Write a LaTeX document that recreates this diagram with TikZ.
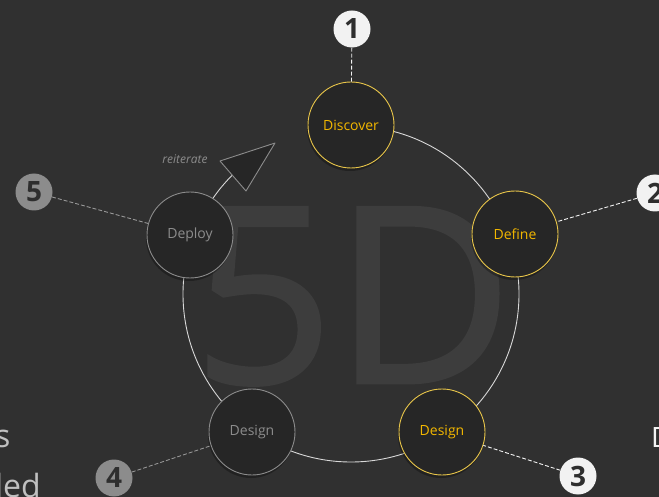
\documentclass[tikz,border=0pt]{standalone}
\usepackage{fontspec}
\setmainfont{Open Sans}
\newfontfamily\ghostfont[FakeBold=1.2]{Open Sans}
\usepackage{tikz}
\usetikzlibrary{shadows}
\definecolor{slidebg}{HTML}{303030}
\definecolor{disc}{HTML}{262626}
\definecolor{gold}{HTML}{F2B700}
\definecolor{goldline}{HTML}{E9C64A}
\definecolor{dim}{HTML}{8C8C8C}
\definecolor{ring}{HTML}{D8D8D8}
\definecolor{ghost}{HTML}{3D3D3D}
\definecolor{chalk}{HTML}{F2F2F2}
\definecolor{ink}{HTML}{2E2E2E}
\definecolor{side}{HTML}{C0C0C0}
\tikzset{
    stage/.style = {circle, fill=disc, minimum size=86pt, inner sep=0pt, line width=0.9pt, font=\fontsize{14}{16}\selectfont,
        drop shadow={shadow xshift=-1pt, shadow yshift=-3pt, opacity=0.3, fill=black}},
    gold_node/.style = {stage, draw=goldline, text=gold},
    grey_node/.style = {stage, draw=dim, text=dim},
    badge/.style = {circle, minimum size=37pt, inner sep=0pt, text=ink, font=\fontsize{28}{30}\selectfont\bfseries},
    light_badge/.style = {badge, fill=chalk},
    dim_badge/.style = {badge, fill=dim},
    lead/.style = {dash pattern=on 4pt off 2pt, line width=0.9pt},
    light_lead/.style = {lead, draw=chalk},
    dim_lead/.style = {lead, draw=dim!90!white},
    cut_text/.style = {inner sep=0pt, text=side, font=\fontsize{32}{36}\selectfont}
}

\begin{document}
\begin{tikzpicture}[x=1pt, y=-1pt]

            \fill[slidebg] (0,0) rectangle (659,497);
            \useasboundingbox (0,0) rectangle (659,497);

            % watermark
            \node [anchor=base, inner sep=0pt, text=ghost, font=\ghostfont\fontsize{246}{250}\selectfont] (watermark) at (353,383) {5D};

            % cycle, open between deploy and discover
            \coordinate (ring_top) at (351,126);
            \draw [ring, line width=0.9pt] (ring_top) arc [start angle=90, end angle=-225, radius=168pt] coordinate (loop_base);

            % reiterate head
            \coordinate (loop_tip) at (275,143);
            \coordinate (loop_left) at (220,161);
            \coordinate (loop_right) at (246,191);
            \filldraw [fill=disc, draw=dim, line width=0.9pt, line join=round] (loop_tip) -- (loop_left) -- (loop_right) -- cycle;
            \node [text=dim, font=\fontsize{12}{14}\selectfont\itshape] (reiterate) at (185,159) {reiterate};

            \node [gold_node] (discover) at (351,125) {Discover};
            \node [gold_node] (define) at (515,234) {Define};
            \node [gold_node] (design) at (442,432) {Design};
            \node [grey_node] (design_grey) at (252,432) {Design};
            \node [grey_node] (deploy) at (190,235) {Deploy};

            % numbers
            \node [light_badge] (n1) at (352,29) {1};
            \node [light_badge] (n2) at (655,193) {2};
            \node [light_badge] (n3) at (578,476) {3};
            \node [dim_badge] (n4) at (114,478) {4};
            \node [dim_badge] (n5) at (34,192) {5};

            \draw [light_lead] (n1) -- (discover);
            \draw [light_lead] (n2) -- (define);
            \draw [light_lead] (n3) -- (design);
            \draw [dim_lead] (n4) -- (design_grey);
            \draw [dim_lead] (n5) -- (deploy);

            % text from the next column
            \node [cut_text, anchor=base east] (cut_s) at (10.5,447) {s};
            \node [cut_text, anchor=base east] (cut_led) at (41,497) {led};
            \node [cut_text, anchor=base west, text=chalk, font=\fontsize{28}{30}\selectfont] (cut_d) at (651,447) {D};
        \end{tikzpicture}
\end{document}
